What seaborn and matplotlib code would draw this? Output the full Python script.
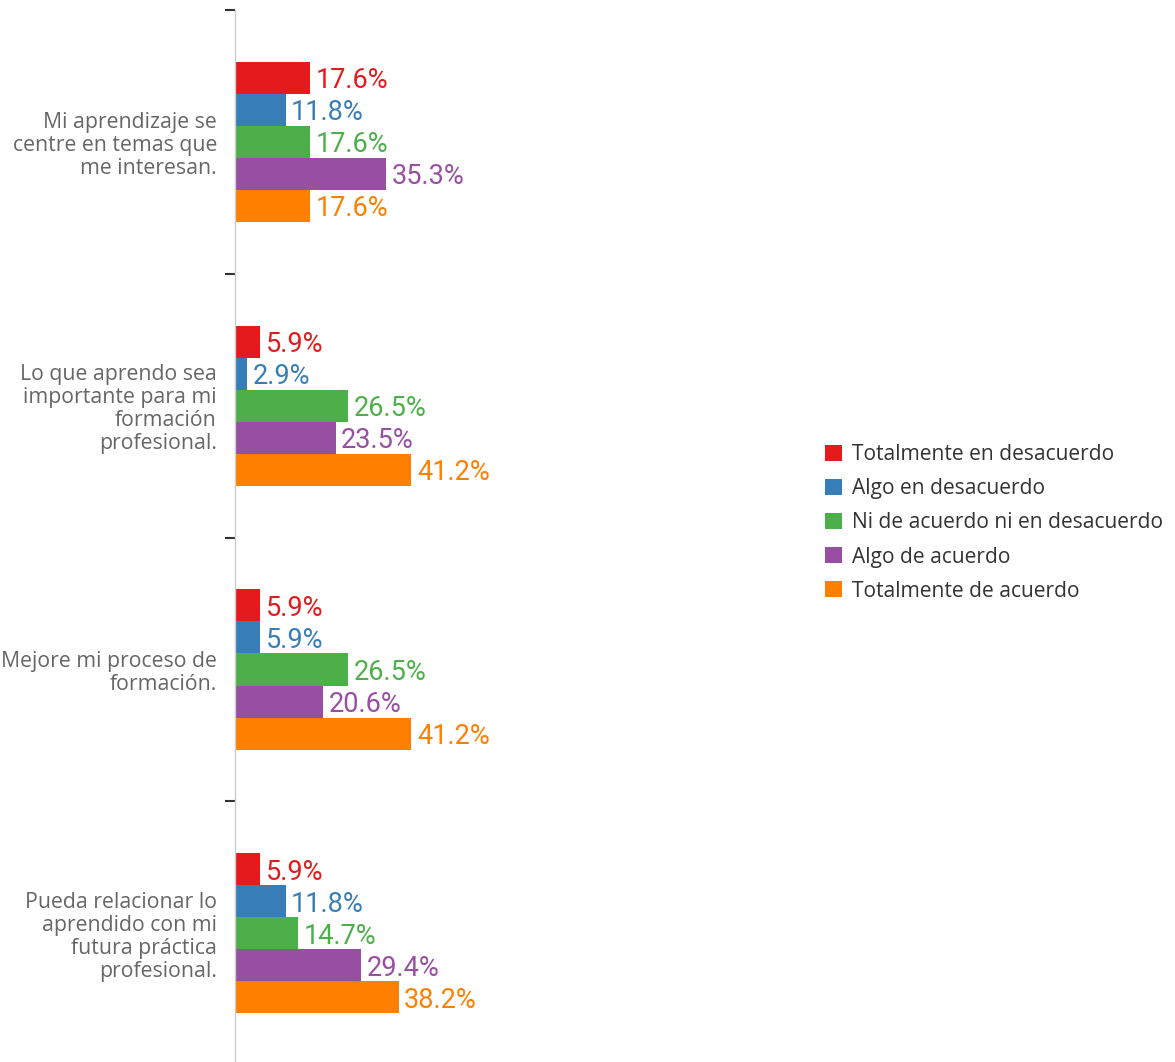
import pandas as pd
import seaborn as sns
import matplotlib.pyplot as plt

# Survey answers, percent of respondents per statement
preguntas = [
    "Mi aprendizaje se\ncentre en temas que\nme interesan.",
    "Lo que aprendo sea\nimportante para mi\nformación\nprofesional.",
    "Mejore mi proceso de\nformación.",
    "Pueda relacionar lo\naprendido con mi\nfutura práctica\nprofesional.",
]
respuestas = [
    "Totalmente en desacuerdo",
    "Algo en desacuerdo",
    "Ni de acuerdo ni en desacuerdo",
    "Algo de acuerdo",
    "Totalmente de acuerdo",
]
totalmente_desacuerdo = [17.6, 5.9, 5.9, 5.9]
algo_desacuerdo = [11.8, 2.9, 5.9, 11.8]
ni_ni = [17.6, 26.5, 26.5, 14.7]
algo_acuerdo = [35.3, 23.5, 20.6, 29.4]
totalmente_acuerdo = [17.6, 41.2, 41.2, 38.2]

series = [totalmente_desacuerdo, algo_desacuerdo, ni_ni, algo_acuerdo, totalmente_acuerdo]
rows = []
for resp, vals in zip(respuestas, series):
    for preg, v in zip(preguntas, vals):
        rows.append({"Pregunta": preg, "Respuesta": resp, "Porcentaje": v})
df = pd.DataFrame(rows)

colores = ["#e41a1c", "#377eb8", "#4daf4a", "#984ea3", "#ff7f00"]

sns.set_style("white")
plt.rcParams["font.family"] = ["Open Sans", "DejaVu Sans"]

fig = plt.figure(figsize=(11.75, 10.62), dpi=100)
ax = fig.add_axes([235 / 1175, -0.003, (800 - 235) / 1175, 1 - 10 / 1062 + 0.003])

sns.barplot(data=df, y="Pregunta", x="Porcentaje", hue="Respuesta",
            order=preguntas, hue_order=respuestas, palette=colores,
            saturation=1, width=0.607, orient="h", ax=ax, linewidth=0)

ax.set_xlim(0, 132)
ax.set_ylim(3.5, -0.5)

for cont, col in zip(ax.containers, colores):
    txts = ax.bar_label(cont, fmt="%.1f%%", color=col, fontsize=19.5, padding=4,
                        family=["Roboto", "DejaVu Sans"])
    for t in txts:
        t.set_va("center_baseline")

# ticks at the group boundaries, labels at group centres
ax.set_yticks([-0.5, 0.5, 1.5, 2.5, 3.5])
ax.set_yticklabels([])
ax.set_yticks(range(len(preguntas)), minor=True)
ax.set_yticklabels(preguntas, minor=True, color="#666666", fontsize=15.3,
                   linespacing=1.12)
ax.tick_params(axis="y", which="major", left=True, length=7, width=1.5,
               color="#333333")
ax.tick_params(axis="y", which="minor", left=True, length=0, pad=13)
ax.set_xticks([])
ax.set_xlabel("")
ax.set_ylabel("")

for s in ["top", "right", "bottom"]:
    ax.spines[s].set_visible(False)
ax.spines["left"].set_color("#cccccc")
ax.spines["left"].set_linewidth(1)

handles, labels = ax.get_legend_handles_labels()
ax.get_legend().remove()
fig.legend(handles, labels, loc="center left",
           bbox_to_anchor=(825 / 1175, 1 - 523 / 1062),
           frameon=False, fontsize=15.1, labelcolor="#333333",
           handlelength=0.8, handleheight=0.8, handletextpad=0.5,
           labelspacing=0.62, borderpad=0, borderaxespad=0)

fig.savefig("out.png", dpi=100)
